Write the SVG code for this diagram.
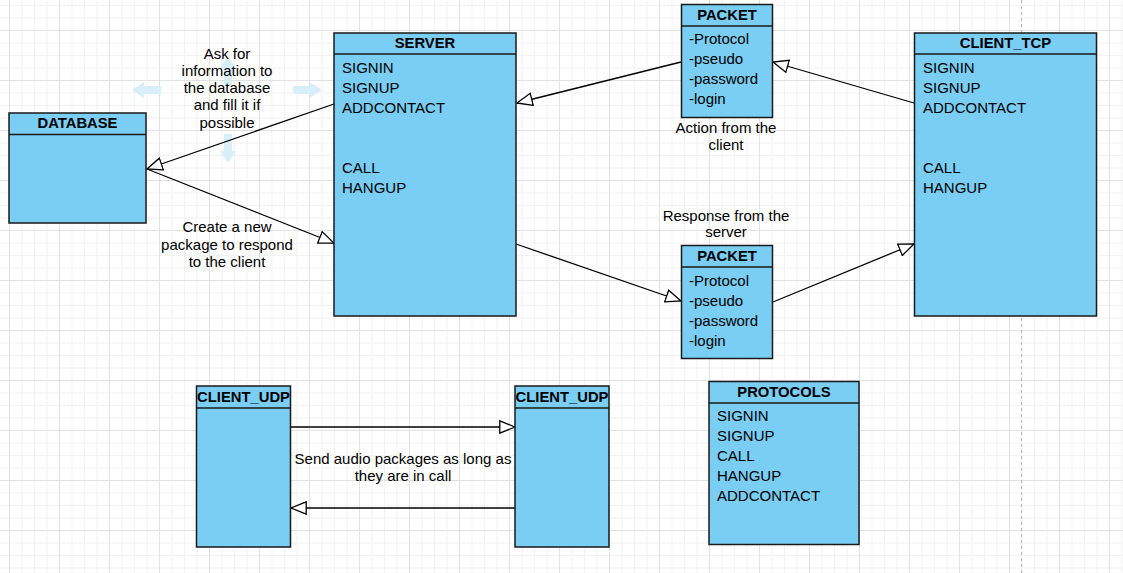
<svg xmlns="http://www.w3.org/2000/svg" width="1123" height="573" viewBox="0 0 1123 573">
  <style>
    .box { fill: #7acdf3; stroke: #1a1a1a; stroke-width: 1.5; }
    .sep { stroke: #1a1a1a; stroke-width: 1.5; fill: none; }
    .hdr { font-family: "Liberation Sans", Arial, sans-serif; font-size: 14.8px; font-weight: bold; fill: #000; text-anchor: middle; }
    .item { font-family: "Liberation Sans", Arial, sans-serif; font-size: 15px; fill: #000; }
    .lbl { font-family: "Liberation Sans", Arial, sans-serif; font-size: 15px; fill: #000; text-anchor: middle; }
    .edge { stroke: #000; stroke-width: 1.3; fill: none; marker-end: url(#tri); }
    .ghost { fill: #d8eff9; }
  </style>
  <defs>
    <pattern id="grid" x="9" y="30" width="50" height="50" patternUnits="userSpaceOnUse">
      <rect x="0" y="12.5" width="50" height="1" fill="#f2f2f2"/>
      <rect x="0" y="25" width="50" height="1" fill="#f2f2f2"/>
      <rect x="0" y="37.5" width="50" height="1" fill="#f2f2f2"/>
      <rect x="12.5" y="0" width="1" height="50" fill="#f2f2f2"/>
      <rect x="25" y="0" width="1" height="50" fill="#f2f2f2"/>
      <rect x="37.5" y="0" width="1" height="50" fill="#f2f2f2"/>
      <rect x="0" y="0" width="50" height="1" fill="#e2e2e2"/>
      <rect x="0" y="0" width="1" height="50" fill="#e2e2e2"/>
    </pattern>
    <marker id="tri" viewBox="0 0 17 14" refX="16" refY="7" markerWidth="17" markerHeight="14" markerUnits="userSpaceOnUse" orient="auto">
      <path d="M0.8,0.8 L16,7 L0.8,13.2 Z" fill="#fff" stroke="#000" stroke-width="1.3"/>
    </marker>
  </defs>
  <rect width="1123" height="573" fill="#fff"/>
  <rect width="1123" height="573" fill="url(#grid)"/>
  <line x1="1021.5" y1="0" x2="1021.5" y2="573" stroke="#b5b5b5" stroke-width="1" stroke-dasharray="3 3"/>

  <g id="hover-arrows">
    <polygon class="ghost" points="132,90 144,82 144,86 161,86 161,94 144,94 144,98"/>
    <polygon class="ghost" points="293,86 310,86 310,82 322,90 310,98 310,94 293,94"/>
    <polygon class="ghost" points="224,134 232,134 232,151 236,151 228,163 220,151 224,151"/>
    <polygon class="ghost" points="228,56 236,68 232,68 232,85 224,85 224,68 220,68"/>
  </g>

  <g id="connectors">
    <path class="edge" d="M334,104 L147,169"/>
    <path class="edge" d="M147,169 L334,243"/>
    <path class="edge" d="M681,62 L517,103"/>
    <path class="edge" d="M914,103 L773,62"/>
    <path class="edge" d="M516,244 L681,301"/>
    <path class="edge" d="M773,302 L914,244"/>
    <path class="edge" d="M291,427 L515,427"/>
    <path class="edge" d="M515,508 L291,508"/>
  </g>

  <g id="database">
    <rect class="box" x="9" y="113" width="137" height="110"/>
    <line class="sep" x1="9" y1="134.5" x2="146" y2="134.5"/>
    <text class="hdr" x="77.5" y="128">DATABASE</text>
  </g>

  <g id="server">
    <rect class="box" x="334" y="33" width="182" height="283"/>
    <line class="sep" x1="334" y1="54" x2="516" y2="54"/>
    <text class="hdr" x="425" y="48">SERVER</text>
    <text class="item" x="342" y="73">SIGNIN</text>
    <text class="item" x="342" y="93">SIGNUP</text>
    <text class="item" x="342" y="113">ADDCONTACT</text>
    <text class="item" x="342" y="173">CALL</text>
    <text class="item" x="342" y="193">HANGUP</text>
  </g>

  <g id="packet-top">
    <rect class="box" x="681.5" y="4.5" width="91" height="113"/>
    <line class="sep" x1="681.5" y1="26" x2="772.5" y2="26"/>
    <text class="hdr" x="727" y="20">PACKET</text>
    <text class="item" x="689" y="44">-Protocol</text>
    <text class="item" x="689" y="64">-pseudo</text>
    <text class="item" x="689" y="84">-password</text>
    <text class="item" x="689" y="104">-login</text>
  </g>

  <g id="packet-bottom">
    <rect class="box" x="681.5" y="245.5" width="91" height="113"/>
    <line class="sep" x1="681.5" y1="267" x2="772.5" y2="267"/>
    <text class="hdr" x="727" y="261">PACKET</text>
    <text class="item" x="689" y="286">-Protocol</text>
    <text class="item" x="689" y="306">-pseudo</text>
    <text class="item" x="689" y="326">-password</text>
    <text class="item" x="689" y="346">-login</text>
  </g>

  <g id="client-tcp">
    <rect class="box" x="914.5" y="33" width="182" height="283"/>
    <line class="sep" x1="914.5" y1="54" x2="1096.5" y2="54"/>
    <text class="hdr" x="1005.5" y="48">CLIENT_TCP</text>
    <text class="item" x="923" y="73">SIGNIN</text>
    <text class="item" x="923" y="93">SIGNUP</text>
    <text class="item" x="923" y="113">ADDCONTACT</text>
    <text class="item" x="923" y="173">CALL</text>
    <text class="item" x="923" y="193">HANGUP</text>
  </g>

  <g id="client-udp-left">
    <rect class="box" x="196.5" y="386" width="94" height="161"/>
    <line class="sep" x1="196.5" y1="408" x2="290.5" y2="408"/>
    <text class="hdr" x="243.5" y="402">CLIENT_UDP</text>
  </g>

  <g id="client-udp-right">
    <rect class="box" x="515" y="386" width="94" height="161"/>
    <line class="sep" x1="515" y1="408" x2="609" y2="408"/>
    <text class="hdr" x="562" y="402">CLIENT_UDP</text>
  </g>

  <g id="protocols">
    <rect class="box" x="709" y="381.5" width="150" height="163"/>
    <line class="sep" x1="709" y1="403" x2="859" y2="403"/>
    <text class="hdr" x="784" y="397">PROTOCOLS</text>
    <text class="item" x="717" y="421">SIGNIN</text>
    <text class="item" x="717" y="441">SIGNUP</text>
    <text class="item" x="717" y="461">CALL</text>
    <text class="item" x="717" y="481">HANGUP</text>
    <text class="item" x="717" y="501">ADDCONTACT</text>
  </g>

  <g id="labels">
    <text class="lbl" x="227" y="58.5">Ask for</text>
    <text class="lbl" x="227" y="75.8">information to</text>
    <text class="lbl" x="227" y="93">the database</text>
    <text class="lbl" x="227" y="110.3">and fill it if</text>
    <text class="lbl" x="227" y="127.6">possible</text>
    <text class="lbl" x="227" y="232.3">Create a new</text>
    <text class="lbl" x="227" y="249.6">package to respond</text>
    <text class="lbl" x="227" y="266.9">to the client</text>
    <text class="lbl" x="726" y="133">Action from the</text>
    <text class="lbl" x="726" y="150.3">client</text>
    <text class="lbl" x="726" y="221">Response from the</text>
    <text class="lbl" x="726" y="237.3">server</text>
    <text class="lbl" x="403" y="464.3">Send audio packages as long as</text>
    <text class="lbl" x="403" y="481.3">they are in call</text>
  </g>
</svg>
